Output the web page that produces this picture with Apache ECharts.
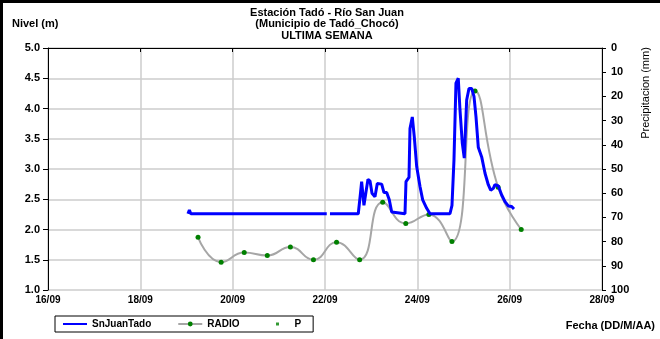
<!DOCTYPE html>
<html><head><meta charset="utf-8">
<script src="https://cdn.jsdelivr.net/npm/echarts@6/dist/echarts.min.js"></script>
<style>html,body{margin:0;padding:0;background:#fff}#c{width:660px;height:339px}</style>
</head><body><div id="c"></div>
<script>
// ---- data ----
const xTickLabels = ['16/09','18/09','20/09','22/09','24/09','26/09','28/09'];
const levelTimes = ['19 00:45','19 01:30','19 02:15','22 00:55',null,'22 02:35','22 17:18','22 18:27','22 19:03','22 20:15','22 21:18','22 22:21','22 23:24','23 00:26','23 01:59','23 03:11','23 05:28','23 06:40','23 08:04','23 09:25','23 10:40','23 11:30','23 17:35','23 18:06','23 19:40','23 20:11','23 21:23','23 22:25','23 23:40','24 01:23','24 02:47','24 04:52','24 06:35','24 16:58','24 18:01','24 19:03','24 20:05','24 21:17','24 22:10','24 23:22','25 00:24','25 01:39','25 02:51','25 04:15','25 05:27','25 06:30','25 07:41','25 09:27','25 11:11','25 12:53','25 14:08','25 15:30','25 16:22','25 18:06','25 19:51','25 21:34','25 23:17','26 01:03','26 02:15'];
const levelValues = [2.26,2.32,2.26,2.26,null,2.26,2.26,2.60,2.79,2.40,2.62,2.83,2.80,2.60,2.54,2.76,2.75,2.61,2.61,2.49,2.29,2.26,2.26,2.79,2.86,3.67,3.86,3.53,3.04,2.71,2.49,2.35,2.26,2.26,2.40,3.15,4.42,4.50,3.98,3.43,3.18,4.14,4.33,4.33,4.20,3.86,3.36,3.20,2.93,2.74,2.65,2.68,2.74,2.72,2.57,2.46,2.39,2.38,2.34];
const radioTimes = ['19 06:00','19 18:00','20 06:00','20 18:00','21 06:00','21 18:00','22 06:00','22 18:00','23 06:00','23 18:00','24 06:00','24 18:00','25 06:00','25 18:00','26 06:00'];
const radioValues = [1.87,1.46,1.62,1.57,1.71,1.50,1.79,1.50,2.45,2.10,2.25,1.80,4.29,2.70,2.00];
const precipTimes = [];
const precipValues = [];

// day offset from 16/09 00:00
function toDays(t){ const d=parseInt(t.slice(0,2),10); const h=parseInt(t.slice(3,5),10); const m=parseInt(t.slice(6,8),10); return (d-16)+(h+m/60)/24; }
function pairs(ts,vs){ return ts.map((t,i)=> t===null ? [null,null] : [toDays(t), vs[i]]); }

const F = 'Liberation Sans, Arial, sans-serif';
const chart = echarts.init(document.getElementById('c'));
chart.setOption({
  animation:false,
  backgroundColor:'#fff',
  grid:{left:48,right:58,top:48,bottom:49},
  xAxis:{type:'value',min:0,max:12,interval:2,
    axisLine:{lineStyle:{color:'#000',width:1}},
    axisTick:{show:true,length:4,lineStyle:{color:'#000'}},
    axisLabel:{color:'#000',fontFamily:F,fontWeight:'bold',fontSize:10,margin:5,formatter:v=>xTickLabels[Math.round(v/2)]},
    splitLine:{show:true,lineStyle:{color:'#cccccc',width:1.5}}},
  yAxis:[
    {type:'value',min:1,max:5,interval:0.5,
     axisLine:{show:true,lineStyle:{color:'#000'}},
     axisTick:{show:true,length:5,lineStyle:{color:'#000'}},
     axisLabel:{color:'#000',fontFamily:F,fontWeight:'bold',fontSize:11,margin:8,formatter:v=>v.toFixed(1)},
     splitLine:{show:true,lineStyle:{color:'#cccccc',width:1.5}}},
    {type:'value',min:0,max:100,interval:10,inverse:true,position:'right',
     axisLine:{show:true,lineStyle:{color:'#000'}},
     axisTick:{show:true,length:4,inside:false,lineStyle:{color:'#000'}},
     axisLabel:{color:'#000',fontFamily:F,fontWeight:'bold',fontSize:11,margin:9},
     splitLine:{show:false}}
  ],
  legend:{left:55,top:316,orient:'horizontal',
    padding:[3,12,3,7],itemGap:26,itemWidth:24,itemHeight:6,
    borderColor:'#000',borderWidth:1,
    textStyle:{color:'#000',fontFamily:F,fontWeight:'bold',fontSize:10},
    data:[{name:'SnJuanTado',itemStyle:{opacity:0}},{name:'RADIO'},
          {name:'P',icon:'path://M0,0L0,0M24,6L24,6M10.5,1.5L13.5,1.5L13.5,4.5L10.5,4.5Z',itemStyle:{color:'#008000'}}]},
  series:[
    {name:'SnJuanTado',type:'line',data:pairs(levelTimes,levelValues),showSymbol:false,symbol:'none',
     connectNulls:false,lineStyle:{color:'#0000ff',width:3},itemStyle:{color:'#0000ff'},z:3},
    {name:'RADIO',type:'line',data:pairs(radioTimes,radioValues),smooth:0.5,symbol:'circle',symbolSize:5,
     lineStyle:{color:'#a6a6a6',width:2},itemStyle:{color:'#008000'},z:2},
    {name:'P',type:'scatter',yAxisIndex:1,data:pairs(precipTimes,precipValues),symbolSize:3,itemStyle:{color:'#008000'}}
  ],
  graphic:[
    {type:'rect',shape:{x:1.5,y:1.5,width:700,height:400},style:{fill:'none',stroke:'#000',lineWidth:3},silent:true},
    {type:'text',x:327,y:7,style:{text:'Estación Tadó - Río San Juan\n(Municipio de Tadó_Chocó)\nULTIMA SEMANA',textAlign:'center',font:'bold 11px '+F,lineHeight:11.5,fill:'#000'}},
    {type:'text',x:12,y:18,style:{text:'Nivel (m)',font:'bold 11px '+F,fill:'#000'}},
    {type:'text',x:646,y:93,rotation:Math.PI/2,style:{text:'Precipitacion (mm)',textAlign:'center',textVerticalAlign:'middle',font:'11px '+F,fill:'#000'}},
    {type:'text',x:655,y:320,style:{text:'Fecha (DD/M/AA)',textAlign:'right',font:'bold 11px '+F,fill:'#000'}}
  ]
});
</script></body></html>
